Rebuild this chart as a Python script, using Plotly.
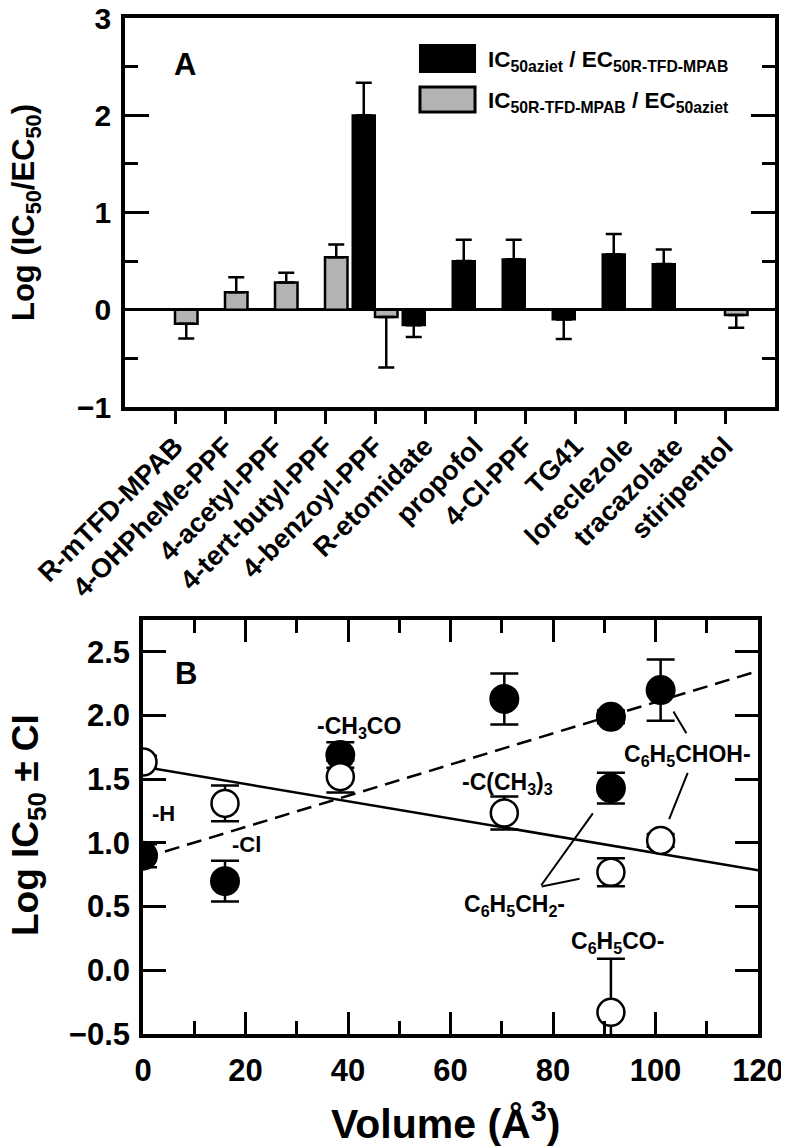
import plotly.graph_objects as go

# ---------------- Panel A data ----------------
compounds = ["R-mTFD-MPAB", "4-OHPheMe-PPF", "4-acetyl-PPF", "4-tert-butyl-PPF",
             "4-benzoyl-PPF", "R-etomidate", "propofol", "4-Cl-PPF", "TG41",
             "loreclezole", "tracazolate", "stiripentol"]
ratio_aziet = [None, None, None, None, 2.00, -0.16, 0.50, 0.52, -0.10, 0.57, 0.47, None]
ratio_aziet_err = [None, None, None, None, 0.335, 0.12, 0.22, 0.20, 0.20, 0.21, 0.15, None]
ratio_mpab = [-0.145, 0.18, 0.28, 0.54, -0.075, None, None, None, None, None, None, -0.055]
ratio_mpab_err = [0.15, 0.155, 0.10, 0.13, 0.52, None, None, None, None, None, None, 0.13]

# ---------------- Panel B data ----------------
vol_filled = [0, 16, 38.5, 70.5, 91.3, 91.3, 101]
logic_filled = [0.90, 0.70, 1.69, 2.13, 1.99, 1.43, 2.20]
ci_filled = [0.09, 0.16, 0.10, 0.20, 0.05, 0.12, 0.24]
vol_open = [0, 16, 38.5, 70.5, 91.3, 91.3, 101]
logic_open = [1.635, 1.31, 1.52, 1.235, -0.33, 0.77, 1.02]
ci_open = [0.05, 0.14, 0.125, 0.13, 0.42, 0.11, 0.05]
fit_x = [0, 120]
fit_filled_y = [0.88, 2.35]
fit_open_y = [1.598, 0.786]

FAM = "Liberation Sans, Arial, Helvetica, sans-serif"

# the page body has an 8px margin, so the figure is sized to fit the window
W, H, OFF = 781, 1140, 8


def px(x):  # window x -> paper x
    return (x - OFF) / W


def py(y):  # window y -> paper y
    return 1 - (y - OFF) / H


def F(size):
    return dict(family=FAM, size=size, color="black", weight="bold")


def up_err(vals, errs):
    return [e if (v is not None and v >= 0) else (0 if v is not None else None) for v, e in zip(vals, errs)]


def dn_err(vals, errs):
    return [e if (v is not None and v < 0) else (0 if v is not None else None) for v, e in zip(vals, errs)]


fig = go.Figure()

fig.add_trace(go.Bar(
    x=compounds, y=ratio_aziet, name="IC50aziet / EC50R-TFD-MPAB",
    marker=dict(color="black", line=dict(color="black", width=2)),
    error_y=dict(type="data", symmetric=False, array=up_err(ratio_aziet, ratio_aziet_err),
                 arrayminus=dn_err(ratio_aziet, ratio_aziet_err), color="black", thickness=2.5, width=8),
    xaxis="x", yaxis="y", showlegend=False))
fig.add_trace(go.Bar(
    x=compounds, y=ratio_mpab, name="IC50R-TFD-MPAB / EC50aziet",
    marker=dict(color="#b3b3b3", line=dict(color="black", width=2.5)),
    error_y=dict(type="data", symmetric=False, array=up_err(ratio_mpab, ratio_mpab_err),
                 arrayminus=dn_err(ratio_mpab, ratio_mpab_err), color="black", thickness=2.5, width=8),
    xaxis="x", yaxis="y", showlegend=False))

# Panel B regression lines
fig.add_trace(go.Scatter(x=fit_x, y=fit_filled_y, mode="lines", line=dict(color="black", width=2.5, dash="15px,8px"),
                         xaxis="x2", yaxis="y2", showlegend=False, hoverinfo="skip"))
fig.add_trace(go.Scatter(x=fit_x, y=fit_open_y, mode="lines", line=dict(color="black", width=2.5),
                         xaxis="x2", yaxis="y2", showlegend=False, hoverinfo="skip"))
# points
fig.add_trace(go.Scatter(x=vol_filled, y=logic_filled, mode="markers",
                         marker=dict(symbol="circle", size=28, color="black", line=dict(color="black", width=2)),
                         error_y=dict(type="data", array=ci_filled, color="black", thickness=2.5, width=14),
                         xaxis="x2", yaxis="y2", showlegend=False))
fig.add_trace(go.Scatter(x=vol_open, y=logic_open, mode="markers",
                         marker=dict(symbol="circle", size=27, color="white", line=dict(color="black", width=2.5)),
                         error_y=dict(type="data", array=ci_open, color="black", thickness=2.5, width=14),
                         xaxis="x2", yaxis="y2", showlegend=False))

AX_COMMON = dict(showline=True, linewidth=3.5, linecolor="black", showgrid=False, zeroline=False,
                 tickcolor="black", tickwidth=3, automargin=False, ticklabeloverflow="allow")

fig.update_layout(
    width=W, height=H, autosize=False,
    margin=dict(l=0, r=0, t=0, b=0, autoexpand=False),
    paper_bgcolor="white", plot_bgcolor="white",
    font=F(20),
    barmode="group", bargap=0.1, bargroupgap=0,
    xaxis=dict(AX_COMMON, domain=[px(125), px(775)], anchor="y", type="category",
               range=[-1, 12], mirror=True, ticks="outside", ticklen=13,
               tickangle=-45, tickfont=F(27), ticklabelstandoff=-4),
    yaxis=dict(AX_COMMON, domain=[py(407), py(18)], anchor="x", range=[-1, 3],
               tickvals=[-1, 0, 1, 2, 3], ticks="inside", ticklen=24, mirror="ticks",
               minor=dict(tickvals=[-0.5, 0.5, 1.5, 2.5], ticks="inside", ticklen=13,
                          tickwidth=3, tickcolor="black"),
               zeroline=True, zerolinewidth=3, zerolinecolor="black",
               tickfont=F(30), ticklabelstandoff=4),
    xaxis2=dict(AX_COMMON, domain=[px(143), px(758)], anchor="y2", range=[0, 120],
                tick0=0, dtick=20, ticks="inside", ticklen=22, mirror="ticks",
                minor=dict(dtick=10, ticks="inside", ticklen=13, tickwidth=3, tickcolor="black"),
                tickfont=F(31), ticklabelstandoff=6),
    yaxis2=dict(AX_COMMON, domain=[py(1034), py(620)], anchor="x2", range=[-0.5, 2.75],
                tick0=0, dtick=0.5, tickformat=".1f", ticks="inside", ticklen=23, mirror="ticks",
                tickfont=F(31), ticklabelstandoff=3),
)

# Legend (panel A) drawn as boxes + text
fig.add_shape(type="rect", xref="x domain", yref="y domain", x0=0.4538, x1=0.5385, y0=0.8612, y1=0.9306,
              fillcolor="black", line=dict(color="black", width=2))
fig.add_shape(type="rect", xref="x domain", yref="y domain", x0=0.4538, x1=0.5385, y0=0.7584, y1=0.8226,
              fillcolor="#b3b3b3", line=dict(color="black", width=3))

annotations = [
    dict(text="IC<sub>50aziet</sub> / EC<sub>50R-TFD-MPAB</sub>", xref="x domain", yref="y domain",
         x=0.5554, y=0.889, xanchor="left", yanchor="middle", showarrow=False, font=F(22.5)),
    dict(text="IC<sub>50R-TFD-MPAB</sub> / EC<sub>50aziet</sub>", xref="x domain", yref="y domain",
         x=0.5554, y=0.784, xanchor="left", yanchor="middle", showarrow=False, font=F(22.5)),
    dict(text="A", xref="x domain", yref="y domain", x=0.0923, y=0.8817, xanchor="center",
         yanchor="middle", showarrow=False, font=F(31)),
    dict(text="B", xref="x2 domain", yref="y2 domain", x=0.0699, y=0.8696, xanchor="center",
         yanchor="middle", showarrow=False, font=F(31)),
    # axis titles
    dict(text="Log (IC<sub>50</sub>/EC<sub>50</sub>)", xref="paper", yref="paper", x=px(26), y=py(213),
         textangle=-90, xanchor="center", yanchor="middle", showarrow=False, font=F(31)),
    dict(text="Log IC<sub>50</sub> ± CI", xref="paper", yref="paper", x=px(28), y=py(825),
         textangle=-90, xanchor="center", yanchor="middle", showarrow=False, font=F(37)),
    dict(text="Volume (Å<sup>3</sup>)", xref="paper", yref="paper", x=px(445), y=py(1121),
         xanchor="center", yanchor="middle", showarrow=False, font=F(41)),
]

# Panel B substituent labels
subst_labels = [
    ("-H", 4.0, 1.234, 22),
    ("-Cl", 20.2, 0.984, 22),
    ("-CH<sub>3</sub>CO", 42.1, 1.91, 23),
    ("-C(CH<sub>3</sub>)<sub>3</sub>", 71.2, 1.465, 23),
    ("C<sub>6</sub>H<sub>5</sub>CHOH-", 106.2, 1.69, 23),
    ("C<sub>6</sub>H<sub>5</sub>CH<sub>2</sub>-", 72.4, 0.51, 23),
    ("C<sub>6</sub>H<sub>5</sub>CO-", 92.5, 0.215, 23),
]
for txt, lx, ly, fs in subst_labels:
    annotations.append(dict(text=txt, xref="x2", yref="y2", x=lx, y=ly, xanchor="center",
                            yanchor="middle", showarrow=False, font=F(fs)))

# leader lines from label anchor points to data points
leaders = [
    (vol_filled[5], logic_filled[5], 77.5, 0.656, 31),
    (vol_open[5], logic_open[5], 77.5, 0.656, 32),
    (vol_filled[6], logic_filled[6], 106.2, 1.849, 25),
    (vol_open[6], logic_open[6], 106.4, 1.5625, 23),
]
for hx, hy, tx, ty, so in leaders:
    annotations.append(dict(text="", xref="x2", yref="y2", x=hx, y=hy, axref="x2", ayref="y2",
                            ax=tx, ay=ty, showarrow=True, arrowhead=0, arrowwidth=2,
                            arrowcolor="black", standoff=so))

fig.update_layout(annotations=annotations)

fig.write_html("out.html")
